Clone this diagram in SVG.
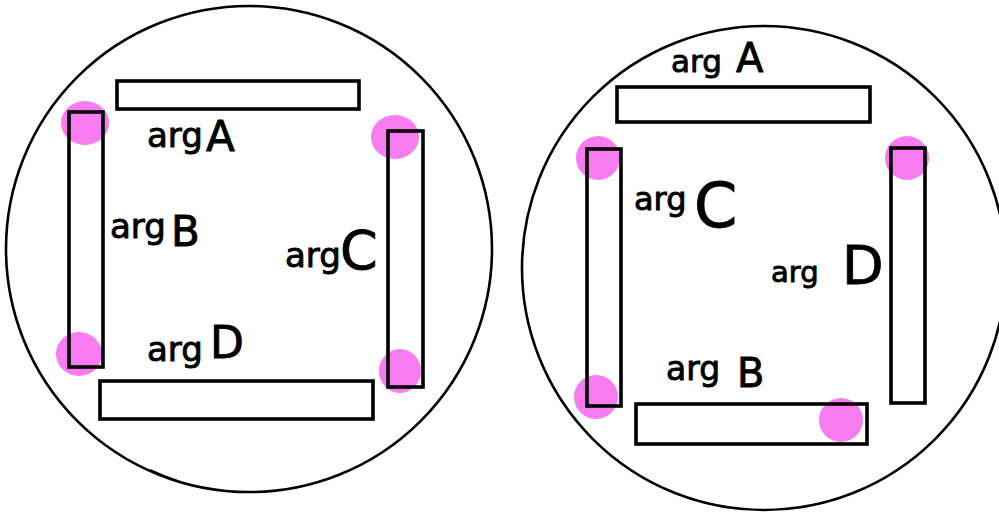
<svg xmlns="http://www.w3.org/2000/svg" width="999" height="513" viewBox="0 0 999 513">
<style>
.ring{fill:none;stroke:#000;stroke-width:2.6}
.bar{fill:none;stroke:#000;stroke-width:3.6}
.dot{fill:#f67cf0}
.lbl{font-family:"DejaVu Sans",sans-serif;fill:#000;stroke:#000;stroke-width:0.9}
</style>
<rect x="0" y="0" width="999" height="513" fill="#fff"/>
<g id="left-disc">
  <circle class="ring" cx="249" cy="249" r="243"/>
  <path d="M150 470 Q165 477 180 482" fill="none" stroke="#000" stroke-width="2"/>
  <g id="left-dots">
    <ellipse class="dot" cx="85" cy="123" rx="24" ry="22"/>
    <ellipse class="dot" cx="395" cy="137" rx="24" ry="22"/>
    <ellipse class="dot" cx="79" cy="354" rx="23" ry="22"/>
    <ellipse class="dot" cx="400" cy="371" rx="21" ry="22"/>
  </g>
  <g id="left-bar-top"><rect class="bar" x="117" y="81" width="242" height="28"/></g>
  <g id="left-bar-left"><rect class="bar" x="69" y="112" width="34" height="255"/></g>
  <g id="left-bar-right"><rect class="bar" x="388" y="131" width="35" height="256"/></g>
  <g id="left-bar-bottom"><rect class="bar" x="100" y="381" width="273" height="38"/></g>
  <g id="left-labels">
    <text class="lbl" font-size="34"><tspan x="147" y="147">arg</tspan><tspan x="206" y="151" font-size="42">A</tspan></text>
    <text class="lbl" font-size="34"><tspan x="110" y="238">arg</tspan><tspan x="171" y="246" font-size="42">B</tspan></text>
    <text class="lbl" font-size="34"><tspan x="285" y="267">arg</tspan><tspan x="340" y="269" font-size="54">C</tspan></text>
    <text class="lbl" font-size="34"><tspan x="147" y="361">arg</tspan><tspan x="210" y="358" font-size="44">D</tspan></text>
  </g>
</g>
<g id="right-disc">
  <circle class="ring" cx="764" cy="268" r="242"/>
  <g id="right-dots">
    <ellipse class="dot" cx="598" cy="158" rx="22" ry="22"/>
    <ellipse class="dot" cx="907" cy="158" rx="22" ry="22"/>
    <ellipse class="dot" cx="596" cy="397" rx="22" ry="22"/>
    <ellipse class="dot" cx="841" cy="420" rx="22" ry="22"/>
  </g>
  <g id="right-bar-top"><rect class="bar" x="617" y="87" width="253" height="35"/></g>
  <g id="right-bar-left"><rect class="bar" x="587" y="149" width="34" height="257"/></g>
  <g id="right-bar-right"><rect class="bar" x="891" y="148" width="34" height="255"/></g>
  <g id="right-bar-bottom"><rect class="bar" x="636" y="404" width="231" height="40"/></g>
  <g id="right-labels">
    <text class="lbl" font-size="31"><tspan x="671" y="72">arg</tspan><tspan x="736" y="72" font-size="40">A</tspan></text>
    <text class="lbl" font-size="32"><tspan x="634" y="210">arg</tspan><tspan x="694" y="227" font-size="62">C</tspan></text>
    <text class="lbl" font-size="29"><tspan x="771" y="282">arg</tspan><tspan x="842" y="284" font-size="54">D</tspan></text>
    <text class="lbl" font-size="33"><tspan x="666" y="380">arg</tspan><tspan x="737" y="387" font-size="40">B</tspan></text>
  </g>
</g>
</svg>
